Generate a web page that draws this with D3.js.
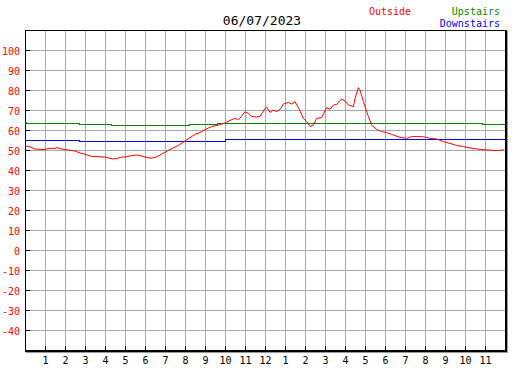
<!DOCTYPE html>
<html>
<head>
<meta charset="utf-8">
<script src="https://cdn.jsdelivr.net/npm/d3@7/dist/d3.min.js"></script>
<style>
  body { margin: 0; background: #fff; }
  text { font-family: "DejaVu Sans Mono", monospace; }
</style>
</head>
<body>
<div id="chart"></div>
<script>
// hours since midnight, outside temperature
let out_hours = [0, 0.25, 0.5, 1, 1.15, 1.5, 1.6, 1.83, 2, 2.5, 2.75, 3, 3.33, 4, 4.25, 4.4, 4.6, 4.83,
    5, 5.33, 5.58, 5.75, 6, 6.25, 6.5, 6.75, 7.25, 7.65, 8, 8.25, 8.5, 8.75, 9, 9.33, 9.67, 10,
    10.25, 10.5, 10.67, 10.83, 11, 11.17, 11.33, 11.58, 11.75, 12, 12.08, 12.25, 12.4, 12.58, 12.75,
    12.92, 13.17, 13.33, 13.5, 13.67, 13.92, 14.08, 14.25, 14.42, 14.58, 14.83, 15.08, 15.25, 15.42,
    15.58, 15.83, 16, 16.17, 16.42, 16.5, 16.67, 16.75, 16.92, 17, 17.17, 17.33, 17.58, 17.83, 18.08,
    18.42, 18.75, 19.08, 19.33, 19.83, 20.08, 20.25, 20.58, 20.92, 21.25, 21.58, 21.92, 22.25, 22.75,
    23.17, 23.58, 23.95]
let outside = [52.2, 51.5, 50.5, 50.2, 50.8, 50.8, 51.2, 50.5, 50.2, 49.5, 48.5, 47.8, 46.8, 46.5, 45.8, 45.5, 45.8, 46.5,
    46.5, 47.2, 47.5, 47.2, 46.5, 45.9, 46.2, 47.5, 50.3, 52.2, 54.5, 56.2, 57.8, 58.7, 60.2, 61.7, 62.5, 63.5,
    64.8, 65.8, 65.2, 66.8, 69.2, 68.2, 66.8, 66.5, 66.8, 70.8, 71.5, 68.8, 70, 69.2, 70.2,
    73, 73.8, 73, 74.2, 71.2, 65.8, 64.2, 61.7, 62.5, 65.8, 66.2, 71.2, 70.3, 72.5,
    72.8, 75.5, 74.5, 72.5, 71.7, 75.8, 81.2, 80, 74.2, 71.7, 66.7, 62.5, 60.3, 59.2, 58.7,
    57.5, 56.3, 55.8, 56.7, 56.7, 56.3, 55.8, 55.5, 54.2, 53.3, 52.3, 51.7, 51, 50.3,
    50, 49.7, 50]

// indoor sensors, step values
let up_hours = [0, 0.05, 2.7, 4.3, 8.2, 9.6, 22.85, 24]
let upstairs = [64, 63.3, 62.8, 62.3, 62.8, 63.3, 62.8, 62.8]
let down_hours = [0, 2.7, 10, 24]
let downstairs = [55, 54.5, 55.3, 55.3]

let hour_labels = ['1','2','3','4','5','6','7','8','9','10','11','12','1','2','3','4','5','6','7','8','9','10','11']
let y_ticks = [100, 90, 80, 70, 60, 50, 40, 30, 20, 10, 0, -10, -20, -30, -40]
let title = '06/07/2023'

let svgWidth = 527, svgHeight = 370
let padding = { left: 25, right: 22, top: 30, bottom: 20 }

let svg = d3.select('#chart').append('svg')
    .attr('width', svgWidth)
    .attr('height', svgHeight)

let x = d3.scaleLinear().domain([0, 24]).range([padding.left, svgWidth - padding.right])
let y = d3.scaleLinear().domain([-50, 110]).range([svgHeight - padding.bottom, padding.top])

// grid
let grid = svg.append('g').attr('shape-rendering', 'crispEdges')
grid.selectAll('.hg').data(y_ticks).enter().append('line')
    .attr('x1', x(0)).attr('x2', x(24))
    .attr('y1', d => y(d) + 0.5).attr('y2', d => y(d) + 0.5)
    .attr('stroke', '#a8a8a8')
grid.selectAll('.vg').data(d3.range(1, 24)).enter().append('line')
    .attr('x1', d => x(d) + 0.5).attr('x2', d => x(d) + 0.5)
    .attr('y1', y(110)).attr('y2', y(-50))
    .attr('stroke', '#a8a8a8')

// frame
let frame = svg.append('g').attr('shape-rendering', 'crispEdges')
frame.append('line').attr('x1', x(0)).attr('x2', x(24) + 2).attr('y1', y(110) + 0.5).attr('y2', y(110) + 0.5).attr('stroke', '#000')
frame.append('line').attr('x1', x(0) + 0.5).attr('x2', x(0) + 0.5).attr('y1', y(110)).attr('y2', y(-50) + 2).attr('stroke', '#000')
// shadow
frame.append('line').attr('x1', x(0) + 1).attr('x2', x(24) + 3).attr('y1', y(-50) + 2.5).attr('y2', y(-50) + 2.5).attr('stroke', '#999')
frame.append('line').attr('x1', x(24) + 2.5).attr('x2', x(24) + 2.5).attr('y1', y(110) + 1).attr('y2', y(-50) + 3).attr('stroke', '#999')
frame.append('line').attr('x1', x(0)).attr('x2', x(24) + 2).attr('y1', y(-50) + 1).attr('y2', y(-50) + 1).attr('stroke', '#000').attr('stroke-width', 2)
frame.append('line').attr('x1', x(24) + 1).attr('x2', x(24) + 1).attr('y1', y(110)).attr('y2', y(-50) + 2).attr('stroke', '#000').attr('stroke-width', 2)

// ticks
frame.selectAll('.yt').data(y_ticks).enter().append('line')
    .attr('x1', x(0)).attr('x2', x(0) + 5)
    .attr('y1', d => y(d) + 0.5).attr('y2', d => y(d) + 0.5)
    .attr('stroke', '#000')
frame.selectAll('.xt').data(d3.range(1, 24)).enter().append('line')
    .attr('x1', d => x(d) + 0.5).attr('x2', d => x(d) + 0.5)
    .attr('y1', y(-50) - 4).attr('y2', y(-50))
    .attr('stroke', '#000')

// labels
svg.append('g').selectAll('text').data(y_ticks).enter().append('text')
    .attr('x', 20).attr('y', d => y(d) + 4.5)
    .attr('text-anchor', 'end')
    .attr('font-size', '10px')
    .attr('fill', '#ff0000')
    .text(d => d)
svg.append('g').selectAll('text').data(hour_labels).enter().append('text')
    .attr('x', (d, i) => x(i + 1) + 0.5).attr('y', 364)
    .attr('text-anchor', 'middle')
    .attr('font-size', '10px')
    .attr('fill', '#000')
    .text(d => d)

svg.append('text').attr('x', 262).attr('y', 25).attr('text-anchor', 'middle')
    .attr('font-size', '13px').attr('fill', '#000').text(title)
svg.append('text').attr('x', 369).attr('y', 15).attr('font-size', '10px').attr('fill', '#ff0000').text('Outside')
svg.append('text').attr('x', 500).attr('y', 15).attr('text-anchor', 'end').attr('font-size', '10px').attr('fill', '#008800').text('Upstairs')
svg.append('text').attr('x', 500).attr('y', 27).attr('text-anchor', 'end').attr('font-size', '10px').attr('fill', '#0000ff').text('Downstairs')

// series
let stepLine = d3.line().curve(d3.curveStepAfter).x(d => x(d[0])).y(d => Math.round(y(d[1])) + 0.5)
svg.append('path')
    .datum(up_hours.map((h, i) => [h, upstairs[i]]))
    .attr('d', stepLine)
    .attr('fill', 'none').attr('stroke', '#008800').attr('shape-rendering', 'crispEdges')
svg.append('path')
    .datum(down_hours.map((h, i) => [h, downstairs[i]]))
    .attr('d', stepLine)
    .attr('fill', 'none').attr('stroke', '#0000ff').attr('shape-rendering', 'crispEdges')

let line = d3.line().x(d => x(d[0])).y(d => y(d[1]))
svg.append('path')
    .datum(out_hours.map((h, i) => [h, outside[i]]))
    .attr('d', line)
    .attr('fill', 'none').attr('stroke', '#ff0000').attr('stroke-width', 1)
</script>
</body>
</html>
